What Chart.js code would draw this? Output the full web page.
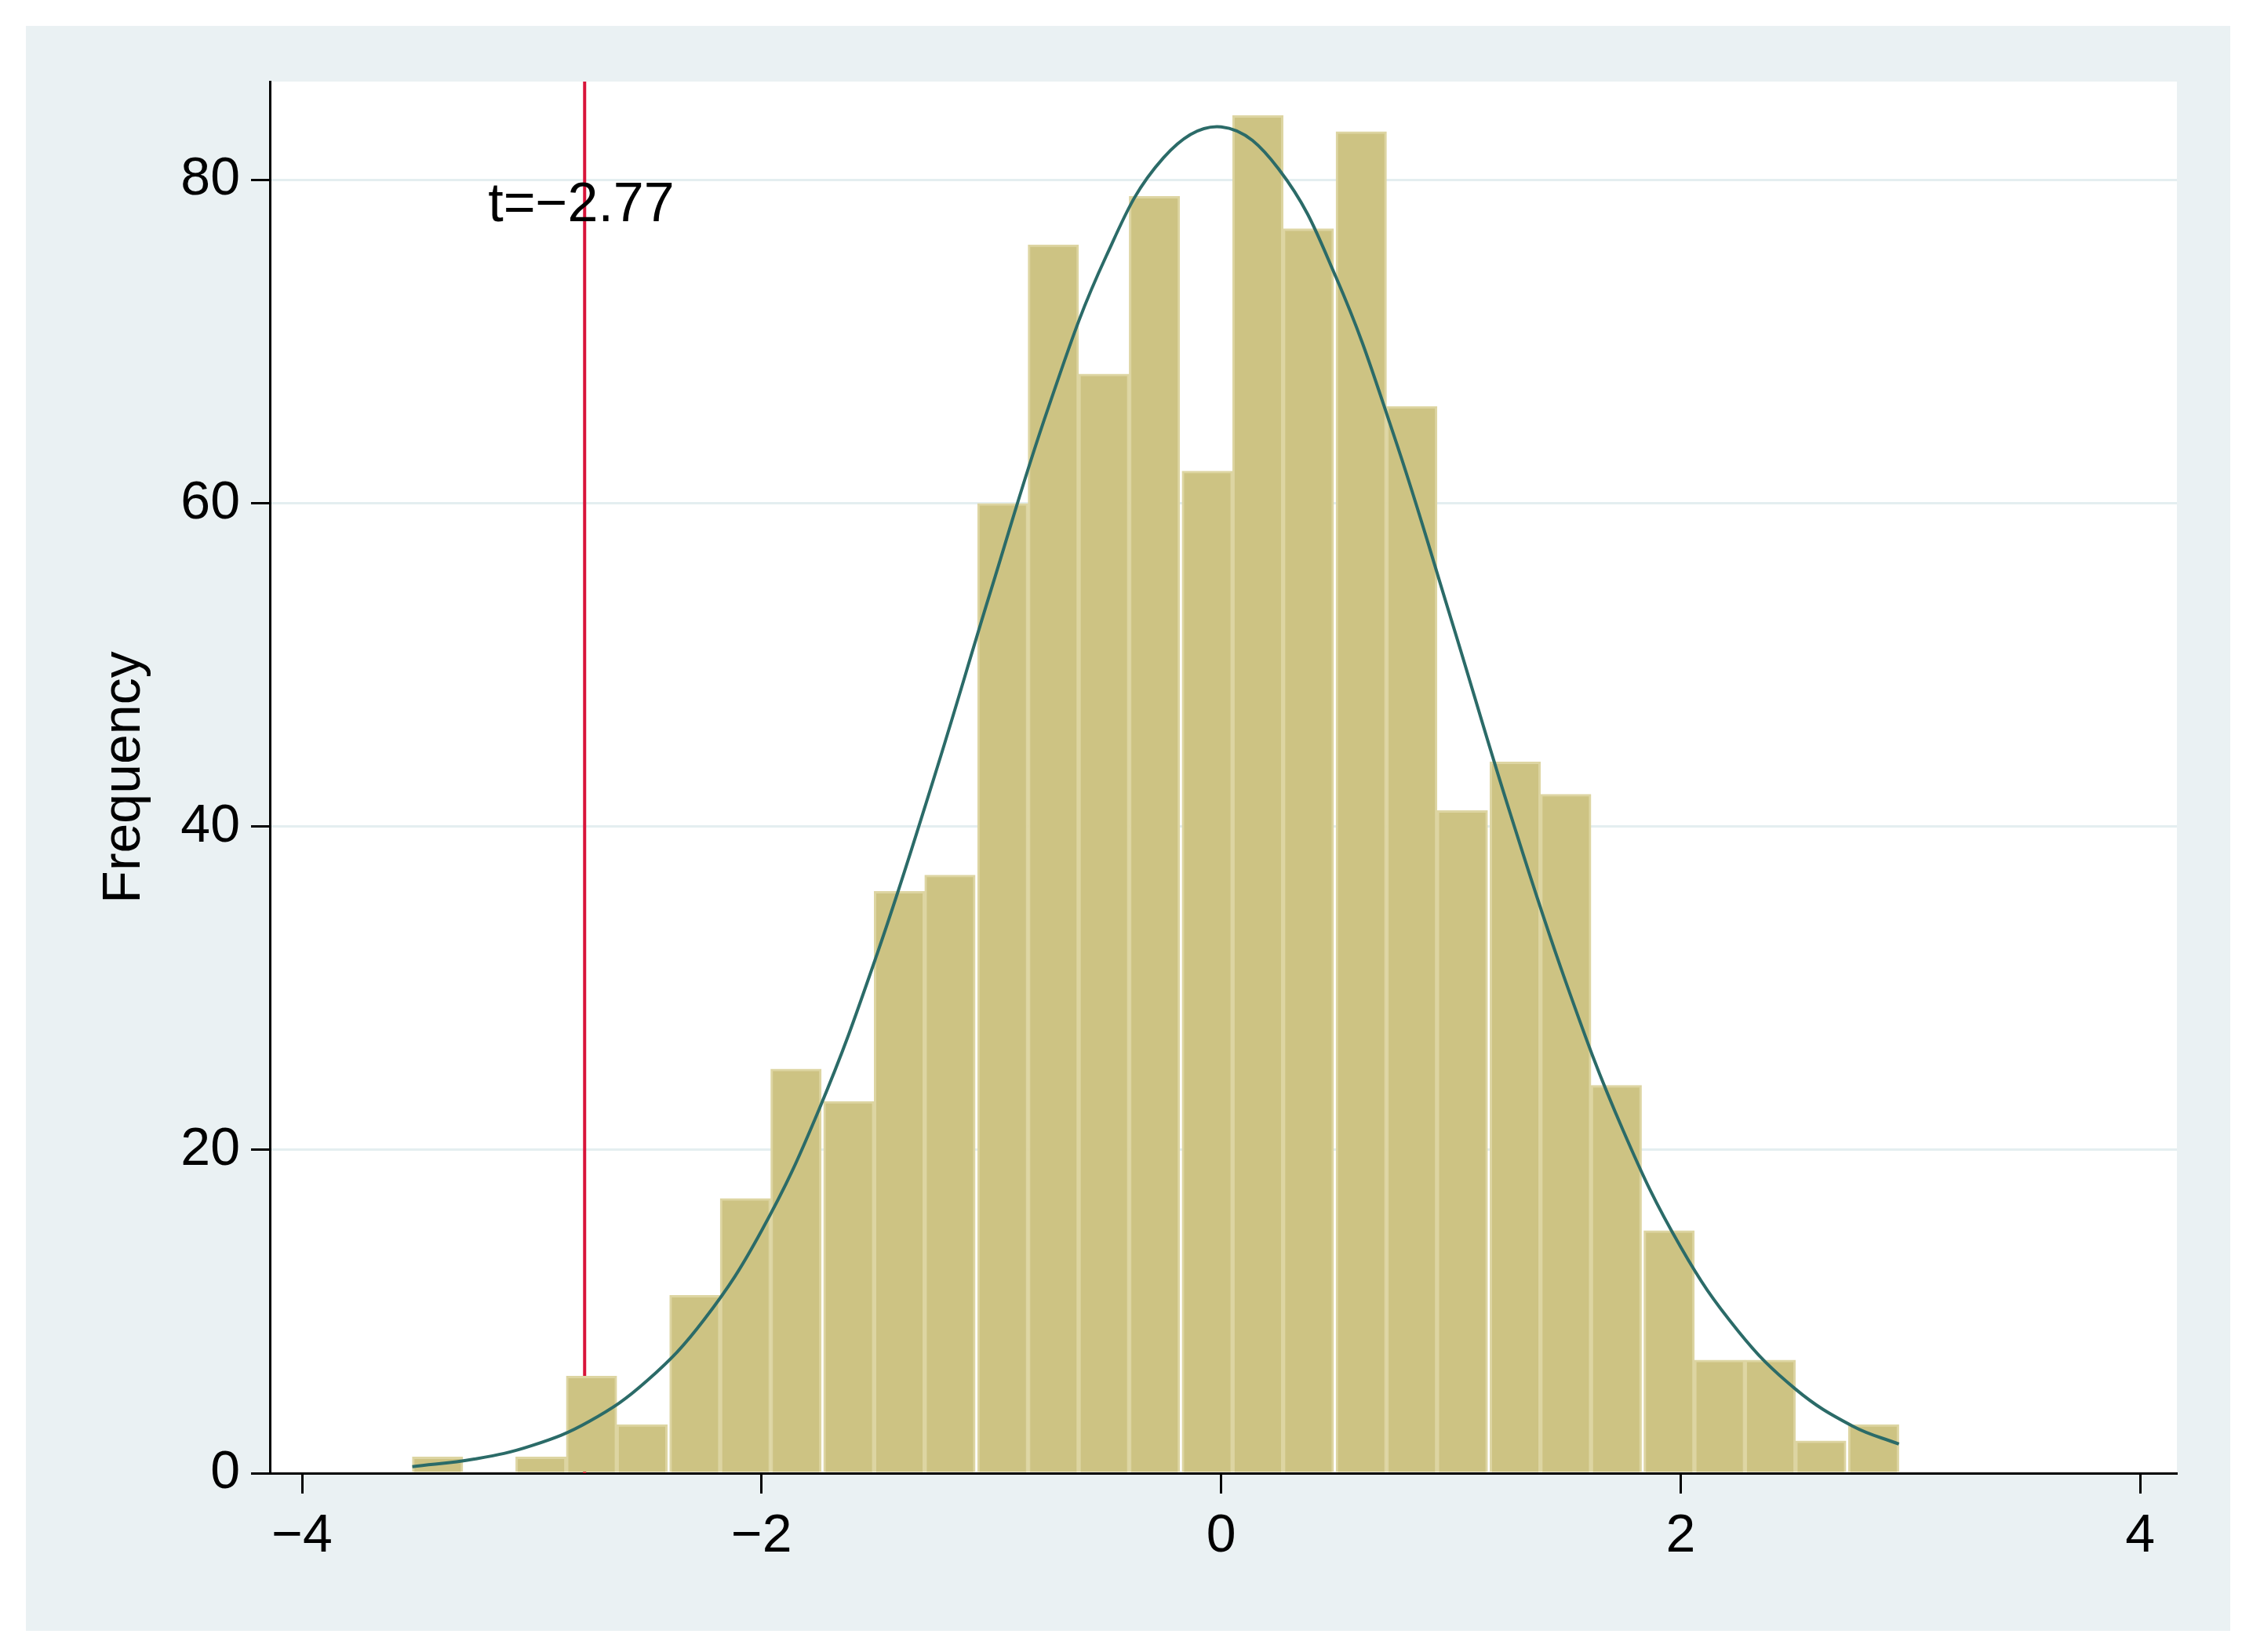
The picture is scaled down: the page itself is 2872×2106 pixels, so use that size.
<!DOCTYPE html>
<html><head><meta charset="utf-8">
<script src="https://cdn.jsdelivr.net/npm/chart.js@4/dist/chart.umd.min.js"></script>
<style>html,body{margin:0;padding:0;background:#fff}canvas{display:block}</style>
</head><body>
<canvas id="c" width="2872" height="2106" style="width:2872px;height:2106px"></canvas>
<script>
// Histogram bin centers (bin width ~0.223) and frequencies
const binCenters = [-3.41,-3.18,-2.96,-2.74,-2.52,-2.29,-2.07,-1.85,-1.62,-1.40,-1.18,-0.95,-0.73,-0.51,-0.29,-0.06,0.16,0.38,0.61,0.83,1.05,1.28,1.50,1.72,1.95,2.17,2.39,2.61,2.84];
const frequencies = [1,0,1,6,3,11,17,25,23,36,37,60,76,68,79,62,84,77,83,66,41,44,42,24,15,7,7,2,3];
// Normal density curve
const curveX = [-3.52,-3.25,-3.0,-2.75,-2.5,-2.25,-2.0,-1.75,-1.5,-1.25,-1.0,-0.75,-0.5,-0.25,0,0.25,0.5,0.75,1.0,1.25,1.5,1.75,2.0,2.25,2.5,2.75,2.95];
const curveY = [0.4,0.87,1.7,3.2,5.7,9.5,15.0,22.5,32.0,43.0,54.7,66.0,75.3,81.4,83.3,80.7,74.0,64.3,52.9,41.2,30.4,21.2,14.0,8.8,5.2,2.9,1.8];
const tValue = -2.77;
const tLabel = "t=\u22122.77";
const xTicks = [-4,-2,0,2,4];
const yTicks = [0,20,40,60,80];
const yTitle = "Frequency";

const FONT = "'Liberation Sans', Arial, sans-serif";
const bg = {
  id:'bg',
  beforeDraw(ch){
    const c=ch.ctx, a=ch.chartArea;
    c.save();
    c.fillStyle='#fff';c.fillRect(0,0,ch.width,ch.height);
    c.fillStyle='#eaf1f3';c.fillRect(33,33,2810,2046);
    c.fillStyle='#fff';c.fillRect(a.left,a.top,a.right-a.left,a.bottom-a.top);
    c.restore();
  },
  afterDatasetsDraw(ch){
    const c=ch.ctx,x=ch.scales.x,y=ch.scales.y;
    c.save();
    c.font="70px "+FONT;c.fillStyle='#000';c.textAlign='left';c.textBaseline='middle';
    c.fillText(tLabel,x.getPixelForValue(-3.19),y.getPixelForValue(78.4));
    c.restore();
  }
};
new Chart(document.getElementById('c'),{
  data:{datasets:[
    {type:'line',data:curveX.map((v,i)=>({x:v,y:curveY[i]})),borderColor:'#2b6b68',borderWidth:4,pointRadius:0,tension:0.4,order:1},
    {type:'line',data:[{x:tValue,y:0},{x:tValue,y:86.1}],borderColor:'#d8143a',borderWidth:4,pointRadius:0,order:3},
    {type:'bar',data:binCenters.map((v,i)=>({x:v,y:frequencies[i]})),backgroundColor:'#cdc383',borderColor:'#ddd5a2',borderWidth:3,barPercentage:1,categoryPercentage:1,order:2}
  ]},
  options:{
    responsive:false,animation:false,devicePixelRatio:1,
    layout:{padding:{left:0,top:104,right:97,bottom:0}},
    plugins:{legend:{display:false},tooltip:{enabled:false}},
    scales:{
      x:{type:'linear',min:-4.14,max:4.16,offset:false,
        afterBuildTicks:s=>{s.ticks=xTicks.map(v=>({value:v}));},
        afterFit:s=>{s.height=228;},
        ticks:{font:{size:68,family:FONT},color:'#000',padding:14,callback:v=>String(v).replace('-','\u2212'),maxRotation:0},
        grid:{offset:false,drawOnChartArea:false,tickLength:26,tickColor:'#000',tickWidth:3},
        border:{color:'#000',width:3}},
      y:{min:0,max:86.1,
        afterBuildTicks:s=>{s.ticks=yTicks.map(v=>({value:v}));},
        afterFit:s=>{s.width=344;},
        ticks:{font:{size:68,family:FONT},color:'#000',padding:14},
        grid:{color:'#e4eef0',lineWidth:3,tickLength:24,tickColor:'#000',tickWidth:3},
        border:{color:'#000',width:3},
        title:{display:true,text:yTitle,font:{size:68,family:FONT},color:'#000',padding:{top:118,bottom:0}}}
    }
  },
  plugins:[bg]
});
</script>
</body></html>
